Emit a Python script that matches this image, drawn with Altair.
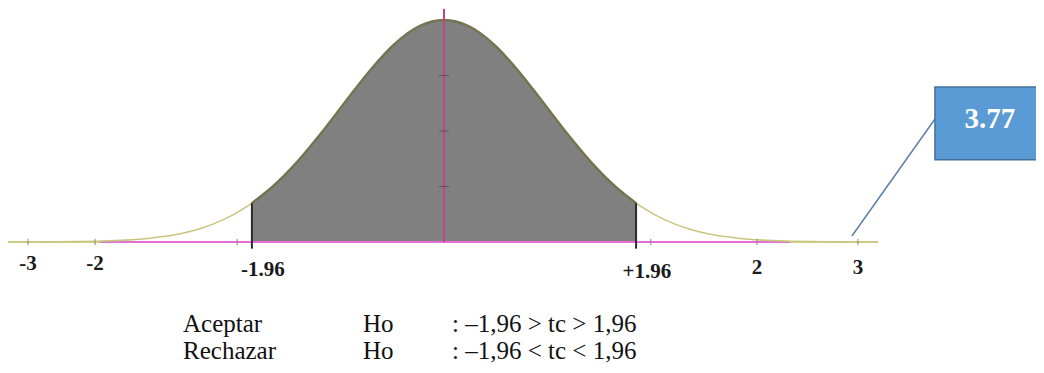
import altair as alt
import pandas as pd

# ---- data ----
# curve: standardized position z and relative height of the bell (peak = 1)
curve_z = [-4.49, -4.0, -3.75, -3.5, -3.25, -3.0, -2.75, -2.5, -2.25, -2.0, -1.96,
           -1.75, -1.5, -1.25, -1.0, -0.75, -0.5, -0.25, 0.0,
           0.25, 0.5, 0.75, 1.0, 1.25, 1.5, 1.75, 1.96, 2.0, 2.25, 2.5, 2.75,
           3.0, 3.25, 3.5, 3.75, 4.0, 4.43]
curve_h = [0.0001, 0.0007, 0.0017, 0.0039, 0.0083, 0.0169, 0.0324, 0.0588, 0.1007, 0.163, 0.175,
           0.249, 0.360, 0.492, 0.635, 0.775, 0.893, 0.972, 1.0,
           0.972, 0.893, 0.775, 0.635, 0.492, 0.360, 0.249, 0.175, 0.163, 0.1007, 0.0588, 0.0324,
           0.0169, 0.0083, 0.0039, 0.0017, 0.0007, 0.0001]
crit_lo, crit_hi = -1.96, 1.96

# axis tick labels and where they sit along the axis
tick_labels = ["-3", "-2", "-1.96", "+1.96", "2", "3"]
tick_z = [-4.245, -3.561, -1.847, 2.071, 3.194, 4.224]
tick_h = [-0.099, -0.099, -0.126, -0.135, -0.117, -0.117]
small_tick_z = [-4.245, -3.561, -2.11, 2.11, 3.194, 4.224]

# axis lines
axis_full = [-4.49, 4.43]
axis_pink = [-3.51, 3.53]
center_top = 1.05
center_ticks = [0.25, 0.5, 0.75]

# callout
callout_text = "3.77"
box_z = [5.01, 6.2]
box_h = [0.37, 0.698]
callout_txt_pos = [5.57, 0.555]
leader_z = [4.163, 5.01]
leader_h = [0.027, 0.554]

# decision rule text
rule_col1 = ["Aceptar", "Rechazar"]
rule_col2 = ["Ho", "Ho"]
rule_col3 = [": \u20131,96 > tc > 1,96", ": \u20131,96 < tc < 1,96"]
rule_col_z = [-2.663, -0.827, 0.082]
rule_row_h = [-0.406, -0.527]

SERIF = "Times New Roman, Liberation Serif, serif"

# ---- scales ----
xs = alt.Scale(domain=[-4.449, 6.041], nice=False, zero=False)
ys = alt.Scale(domain=[-0.554, 1.054], nice=False, zero=False)
X = lambda f: alt.X(f, type="quantitative", scale=xs, axis=None)
Y = lambda f: alt.Y(f, type="quantitative", scale=ys, axis=None)

curve = pd.DataFrame({"z": curve_z, "h": curve_h})
shaded = curve[(curve.z >= crit_lo) & (curve.z <= crit_hi)]
crit_h = float(curve.loc[curve.z == crit_hi, "h"].iloc[0])

area = alt.Chart(shaded).mark_area(color="#808080", interpolate="monotone", opacity=1).encode(
    x=X("z"), y=Y("h"), y2=alt.datum(0))

axis_yellow = alt.Chart(pd.DataFrame({"a": [axis_full[0]], "b": [axis_full[1]], "h": [0]})).mark_rule(
    color="#d9d68c", strokeWidth=2).encode(x=X("a"), x2="b", y=Y("h"))
axis_pinkl = alt.Chart(pd.DataFrame({"a": [axis_pink[0]], "b": [axis_pink[1]], "h": [0]})).mark_rule(
    color="#e46ed6", strokeWidth=2).encode(x=X("a"), x2="b", y=Y("h"))

line_all = alt.Chart(curve).mark_line(color="#c9c580", strokeWidth=1.6, interpolate="monotone").encode(
    x=X("z"), y=Y("h"))
line_shade = alt.Chart(shaded).mark_line(color="#747450", strokeWidth=2.5, interpolate="monotone").encode(
    x=X("z"), y=Y("h"))

crit_lines = alt.Chart(pd.DataFrame({"z": [crit_lo, crit_hi], "h0": [-0.03, -0.03], "h1": [crit_h, crit_h]})).mark_rule(
    color="#2a2a2a", strokeWidth=2).encode(x=X("z"), y=Y("h0"), y2="h1")

center = alt.Chart(pd.DataFrame({"z": [0.0], "h0": [0.0], "h1": [center_top]})).mark_rule(
    color="#c8408a", strokeWidth=2).encode(x=X("z"), y=Y("h0"), y2="h1")
cticks = alt.Chart(pd.DataFrame({"h": center_ticks, "a": [-0.05] * 3, "b": [0.05] * 3})).mark_rule(
    color="#6a4a6a", strokeWidth=1).encode(x=X("a"), x2="b", y=Y("h"))

sticks = alt.Chart(pd.DataFrame({"z": small_tick_z, "h0": [-0.014] * 6, "h1": [0.014] * 6})).mark_rule(
    color="#8a8a6a", strokeWidth=1).encode(x=X("z"), y=Y("h0"), y2="h1")

tlabels = alt.Chart(pd.DataFrame({"z": tick_z, "h": tick_h, "t": tick_labels})).mark_text(
    font=SERIF, fontWeight="bold", fontSize=21, color="#1a1a1a", baseline="middle", align="center"
).encode(x=X("z"), y=Y("h"), text="t:N")

leader = alt.Chart(pd.DataFrame({"a": [leader_z[0]], "b": [leader_z[1]], "h0": [leader_h[0]], "h1": [leader_h[1]]})).mark_rule(
    color="#5b7fa8", strokeWidth=1.5).encode(x=X("a"), x2="b", y=Y("h0"), y2="h1")

box = alt.Chart(pd.DataFrame({"a": [box_z[0]], "b": [box_z[1]], "h0": [box_h[0]], "h1": [box_h[1]]})).mark_rect(
    color="#5b9bd5", stroke="#41719c", strokeWidth=1.5).encode(x=X("a"), x2="b", y=Y("h0"), y2="h1")

btext = alt.Chart(pd.DataFrame({"z": [callout_txt_pos[0]], "h": [callout_txt_pos[1]], "t": [callout_text]})).mark_text(
    font=SERIF, fontWeight="bold", fontSize=29, color="white", baseline="middle", align="center"
).encode(x=X("z"), y=Y("h"), text="t:N")

rule_df = pd.DataFrame({
    "z": [rule_col_z[0], rule_col_z[1], rule_col_z[2]] * 2,
    "h": [rule_row_h[0]] * 3 + [rule_row_h[1]] * 3,
    "t": [rule_col1[0], rule_col2[0], rule_col3[0], rule_col1[1], rule_col2[1], rule_col3[1]],
})
rtext = alt.Chart(rule_df).mark_text(
    font=SERIF, fontSize=25, color="#111111", baseline="alphabetic", align="left"
).encode(x=X("z"), y=Y("h"), text="t:N")

chart = alt.layer(
    area, axis_yellow, axis_pinkl, line_all, line_shade, crit_lines, center, cticks, sticks,
    tlabels, leader, box, btext, rtext
).properties(
    width=1028, height=357, padding=0, autosize=alt.AutoSizeParams(type="none")
).configure_view(stroke=None)

chart.save("out.html", embed_options={"renderer": "svg", "actions": False})
